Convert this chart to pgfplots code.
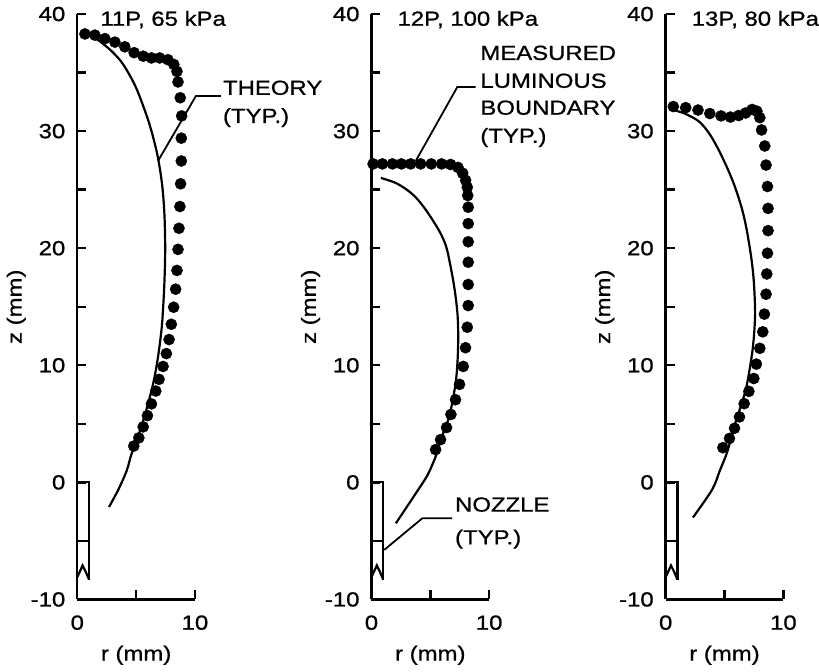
\documentclass[border=0pt]{standalone}
\usepackage{fontspec}
\setmainfont{Liberation Sans}[FakeStretch=1.17, FakeBold=0.8]
\usepackage{pgfplots}
\pgfplotsset{compat=1.18}

\newcommand\fs{\fontsize{20.5}{28}\selectfont}

\pgfplotsset{
  panel/.style={
    scale only axis, width=118pt, height=587pt,
    xmin=0, xmax=10, ymin=-10, ymax=40,
    axis lines=left, axis line style={-, line width=2.4pt},
    tick align=inside, major tick length=9pt,
    tick style={line width=2.4pt, black},
    xtick={0,5,10}, xticklabels={0,,10},
    ytick={-10,-5,...,40}, yticklabels={-10,,0,,10,,20,,30,,40},
    xlabel={r (mm)}, ylabel={z (mm)},
    ylabel shift=-9pt, xlabel shift=2pt,
    yticklabel style={xshift=-5pt, font=\fs},
    xticklabel style={yshift=-9pt, font=\fs},
    label style={font=\fs},
    clip=false,
  },
  dots/.style={only marks, mark=*, mark size=5.6pt, black},
  theory/.style={no marks, smooth, black, line width=2.2pt},
  nozzle/.style={no marks, black, line width=2.2pt},
}

\begin{document}
\fs
\begin{tikzpicture}
% 11P, 65 kPa
\begin{axis}[panel, at={(0pt,0pt)}]
\addplot[dots] coordinates {
  (0.65,38.3)(1.5,38.2)(2.35,37.9)(3.2,37.6)(4.04,37.2)(4.83,36.7)(5.6,36.4)
  (6.3,36.25)(7.0,36.25)(7.7,36.1)(8.2,35.7)(8.47,35.1)(8.56,34.2)(8.75,32.85)
  (8.87,31.3)(8.84,29.4)(8.84,27.45)(8.78,25.5)(8.72,23.56)(8.64,21.7)(8.56,19.9)
  (8.47,18.1)(8.36,16.5)(8.19,14.96)(7.99,13.5)(7.8,12.2)(7.57,11.0)(7.29,9.9)
  (6.95,8.8)(6.67,7.8)(6.3,6.7)(5.96,5.7)(5.6,4.74)(5.23,3.8)(4.8,3.1)
};
\addplot[theory] coordinates {
  (0.3,38.35)(0.9,38.2)(1.5,37.95)(2.2,37.45)(3.0,36.75)(3.9,35.7)(5.0,33.7)
  (6.1,30.7)(6.8,28.0)(7.2,25.5)(7.4,23)(7.47,20)(7.4,17)(7.2,13.5)(6.86,10.7)
  (6.44,8.4)(5.87,6.2)(5.17,3.9)(4.6,2.4)(4.2,1.0)(3.5,-0.6)(2.7,-2.1)
};
\addplot[nozzle] coordinates {(0,0)(1,0)(1,-8.3)};
\addplot[nozzle] coordinates {(0,-5)(1,-5)};
\addplot[nozzle] coordinates {(0,-8.1)(0.45,-7.1)(0.7,-7.6)(1,-8.3)};
\draw[line width=1.8pt] (axis cs:6.86,27.45) -- (axis cs:10.08,33.0) -- (axis cs:12.2,33.0);
\node[anchor=base west, inner sep=0pt] at (axis cs:12.37,33.1) {THEORY};
\node[anchor=base west, inner sep=0pt] at (axis cs:12.37,30.7) {(TYP.)};
\node[anchor=base west, inner sep=0pt] at (axis cs:1.95,39.0) {11P, 65 kPa};
\end{axis}

% 12P, 100 kPa
\begin{axis}[panel, at={(295pt,0pt)}]
\addplot[dots] coordinates {
  (0.14,27.2)(0.93,27.2)(1.78,27.2)(2.54,27.2)(3.33,27.2)(4.18,27.2)(5.08,27.2)
  (5.96,27.2)(6.72,27.15)(7.35,26.9)(7.75,26.4)(8.0,25.8)(8.14,25.2)(8.18,24.5)
  (8.22,23.5)(8.22,22.1)(8.22,20.55)(8.22,18.8)(8.22,16.9)(8.22,15.1)(8.14,13.25)
  (7.99,11.5)(7.8,9.9)(7.48,8.37)(7.14,7.06)(6.75,5.8)(6.38,4.68)(5.87,3.65)(5.45,2.8)
};
\addplot[theory] coordinates {
  (0.8,26.0)(2.0,25.6)(3.0,25.0)(3.8,24.3)(4.6,23.3)(5.45,22.0)(6.0,21.0)
  (6.44,19.8)(7.0,16.9)(7.3,14.5)(7.37,12.5)(7.32,10.5)(7.14,8.4)(6.6,5.6)
  (5.75,3.3)(5.45,2.2)(4.75,0.6)(3.76,-0.95)(2.07,-3.5)
};
\addplot[nozzle] coordinates {(0,0)(1,0)(1,-8.3)};
\addplot[nozzle] coordinates {(0,-5)(1,-5)};
\addplot[nozzle] coordinates {(0,-8.1)(0.45,-7.1)(0.7,-7.6)(1,-8.3)};
\draw[line width=1.8pt] (axis cs:3.76,27.45) -- (axis cs:7.29,33.76) -- (axis cs:8.84,33.76);
\node[anchor=base west, inner sep=0pt] at (axis cs:9.24,36.08) {MEASURED};
\node[anchor=base west, inner sep=0pt] at (axis cs:9.24,33.7) {LUMINOUS};
\node[anchor=base west, inner sep=0pt] at (axis cs:9.24,31.4) {BOUNDARY};
\node[anchor=base west, inner sep=0pt] at (axis cs:9.24,29.0) {(TYP.)};
\draw[line width=1.8pt] (axis cs:1.08,-5.77) -- (axis cs:4.32,-3.07) -- (axis cs:6.86,-3.07);
\node[anchor=base west, inner sep=0pt] at (axis cs:7.09,-2.5) {NOZZLE};
\node[anchor=base west, inner sep=0pt] at (axis cs:7.09,-5.3) {(TYP.)};
\node[anchor=base west, inner sep=0pt] at (axis cs:2.2,39.0) {12P, 100 kPa};
\end{axis}

% 13P, 80 kPa
\begin{axis}[panel, at={(590pt,0pt)}]
\addplot[dots] coordinates {
  (0.65,32.1)(1.7,32.0)(2.75,31.8)(3.75,31.5)(4.7,31.3)(5.5,31.2)(6.2,31.33)
  (6.8,31.55)(7.35,31.85)(7.75,31.7)(8.0,31.15)(8.15,30.1)(8.42,28.73)(8.53,27.1)
  (8.65,25.27)(8.7,23.4)(8.7,21.5)(8.65,19.57)(8.59,17.8)(8.53,16.07)(8.39,14.37)
  (8.25,12.86)(8.0,11.45)(7.71,10.1)(7.49,8.87)(7.07,7.77)(6.67,6.72)(6.27,5.59)
  (5.85,4.62)(5.42,3.75)(4.86,2.96)
};
\addplot[theory] coordinates {
  (0.4,31.85)(1.5,31.55)(2.8,30.85)(3.7,29.8)(4.5,28.4)(5.3,26.7)(5.9,25.2)
  (6.5,23.3)(6.9,21.5)(7.3,19)(7.5,17)(7.6,14.5)(7.5,12.5)(7.3,10.7)(6.8,7.9)
  (5.9,5.0)(5.23,2.6)(4.6,1.0)(3.96,-0.6)(2.32,-3.0)
};
\addplot[nozzle] coordinates {(0,0)(1,0)(1,-8.3)};
\addplot[nozzle] coordinates {(0,-5)(1,-5)};
\addplot[nozzle] coordinates {(0,-8.1)(0.45,-7.1)(0.7,-7.6)(1,-8.3)};
\node[anchor=base west, inner sep=0pt] at (axis cs:2.2,39.0) {13P, 80 kPa};
\end{axis}
\end{tikzpicture}
\end{document}
